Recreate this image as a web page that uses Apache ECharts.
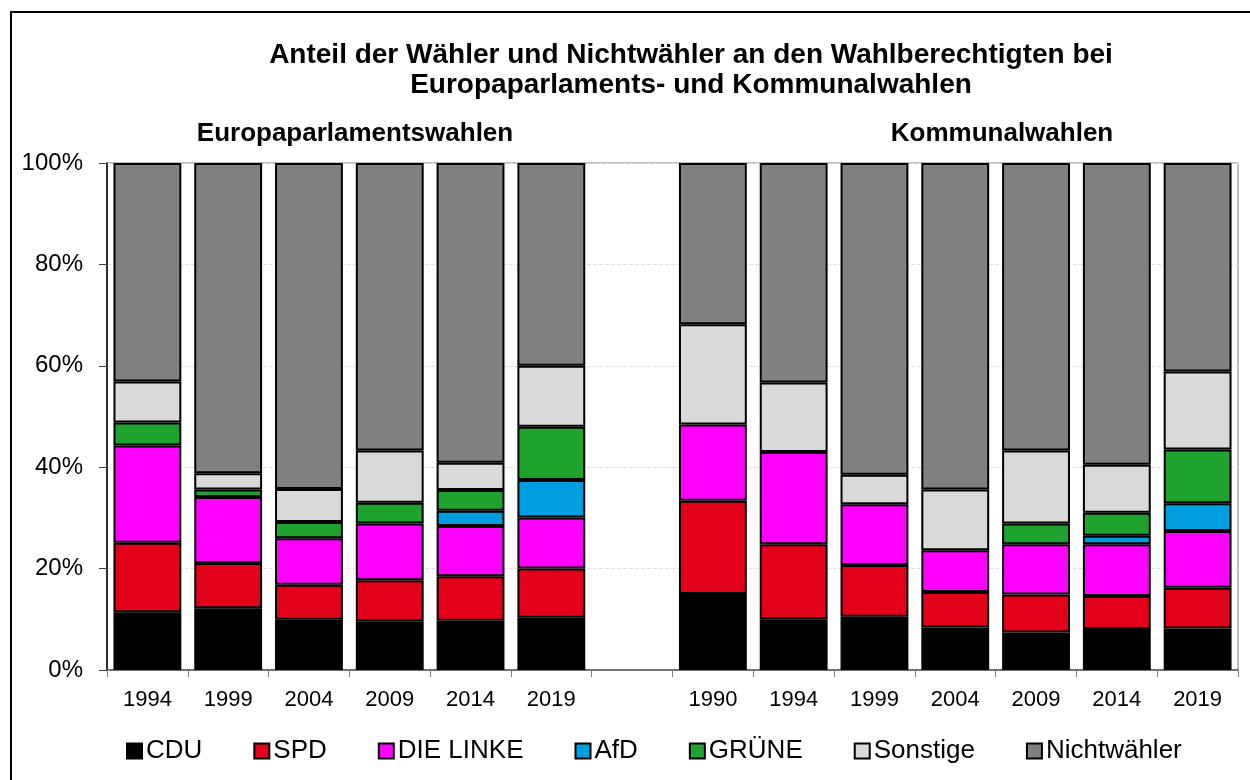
<!DOCTYPE html>
<html>
<head>
<meta charset="utf-8">
<title>Wähler und Nichtwähler</title>
<script src="https://cdn.jsdelivr.net/npm/echarts@6/dist/echarts.min.js"></script>
<style>
	html, body { margin: 0; padding: 0; background: #fff; }
	#chart { width: 1250px; height: 780px; }
</style>
</head>
<body>
<div id="chart"></div>
<script>
	// Jahre der Wahlen (leere Kategorie trennt die beiden Gruppen)
	var europaYears = ['1994', '1999', '2004', '2009', '2014', '2019'];
	var kommunalYears = ['1990', '1994', '1999', '2004', '2009', '2014', '2019'];
	var categories = europaYears.concat(['']).concat(kommunalYears);

	// Anteile an den Wahlberechtigten in %
	var cdu      = [11.4, 12.2,  9.9,  9.6,  9.7, 10.3, null, 15.0, 10.0, 10.5,  8.4,  7.4,  8.1,  8.2];
	var spd      = [13.7,  8.9,  6.9,  8.1,  8.8,  9.7, null, 18.4, 14.8, 10.2,  7.0,  7.5,  6.5,  8.0];
	var linke    = [19.2, 13.0,  9.2, 11.2,  9.9, 10.1, null, 15.0, 18.2, 12.0,  8.2,  9.9, 10.2, 11.2];
	var afd      = [null, null, null, null,  3.0,  7.4, null, null, null, null, null, null,  1.7,  5.5];
	var gruene   = [ 4.5,  1.5,  3.2,  4.1,  4.1, 10.5, null, null, null, null, null,  4.1,  4.5, 10.6];
	var sonstige = [ 8.1,  3.2,  6.5, 10.3,  5.4, 12.0, null, 19.8, 13.7,  5.8, 12.0, 14.4,  9.5, 15.4];
	var nicht    = [43.1, 61.2, 64.3, 56.7, 59.1, 40.0, null, 31.8, 43.3, 61.5, 64.4, 56.7, 59.5, 41.1];

	var yTicks = [0, 20, 40, 60, 80, 100];

	var FONT = '"Liberation Sans", Arial, sans-serif';

	var chart = echarts.init(document.getElementById('chart'), null, { renderer: 'canvas' });

	function barSeries(name, data, color) {
		return {
			name: name,
			type: 'bar',
			stack: 'total',
			barWidth: '84%',
			data: data,
			itemStyle: {
				color: color,
				borderColor: '#000',
				borderWidth: 2
			},
			emphasis: { disabled: true }
		};
	}

	var option = {
		backgroundColor: '#fff',
		animation: false,
		textStyle: { fontFamily: FONT },
		title: [{
			text: 'Anteil der Wähler und Nichtwähler an den Wahlberechtigten bei\nEuropaparlaments- und Kommunalwahlen',
			left: 686,
			top: 35,
			textAlign: 'center',
			textStyle: { fontFamily: FONT, fontSize: 28, fontWeight: 'bold', color: '#000', lineHeight: 30 }
		}, {
			text: 'Europaparlamentswahlen',
			left: 350,
			top: 116,
			textAlign: 'center',
			textStyle: { fontFamily: FONT, fontSize: 26, fontWeight: 'bold', color: '#000' }
		}, {
			text: 'Kommunalwahlen',
			left: 997,
			top: 116,
			textAlign: 'center',
			textStyle: { fontFamily: FONT, fontSize: 26, fontWeight: 'bold', color: '#000' }
		}],
		legend: {
			left: 121,
			top: 733,
			itemWidth: 15,
			itemHeight: 15,
			itemGap: 51,
			icon: 'rect',
			selectedMode: false,
			textStyle: { fontFamily: FONT, fontSize: 26, color: '#000', padding: [0, 0, 0, -1] }
		},
		grid: {
			left: 107,
			right: 12,
			top: 163,
			bottom: 110,
			show: true,
			borderColor: '#808080',
			borderWidth: 1
		},
		xAxis: {
			type: 'category',
			data: categories,
			axisLine: { lineStyle: { color: '#555', width: 1.5 } },
			axisTick: { show: true, length: 7, lineStyle: { color: '#808080' } },
			axisLabel: { fontFamily: FONT, fontSize: 22, color: '#000', margin: 19 }
		},
		yAxis: {
			type: 'value',
			min: yTicks[0],
			max: yTicks[yTicks.length - 1],
			interval: yTicks[1] - yTicks[0],
			axisLine: { show: true, lineStyle: { color: '#000', width: 1.5 } },
			axisTick: { show: true, length: 8, lineStyle: { color: '#404040' } },
			axisLabel: { fontFamily: FONT, fontSize: 24, color: '#000', margin: 24, formatter: '{value}%' },
			splitLine: { show: true, lineStyle: { color: '#e0e0e0', type: 'dashed' } }
		},
		series: [
			barSeries('CDU', cdu, '#000000'),
			barSeries('SPD', spd, '#E2001A'),
			barSeries('DIE LINKE', linke, '#FF00FF'),
			barSeries('AfD', afd, '#009EE0'),
			barSeries('GRÜNE', gruene, '#1FA22E'),
			barSeries('Sonstige', sonstige, '#D9D9D9'),
			barSeries('Nichtwähler', nicht, '#808080')
		],
		graphic: [{
			type: 'polyline',
			shape: { points: [[11, 780], [11, 12], [1250, 12]] },
			style: { stroke: '#000', lineWidth: 2, fill: null },
			silent: true
		}]
	};

	chart.setOption(option);
</script>
</body>
</html>
